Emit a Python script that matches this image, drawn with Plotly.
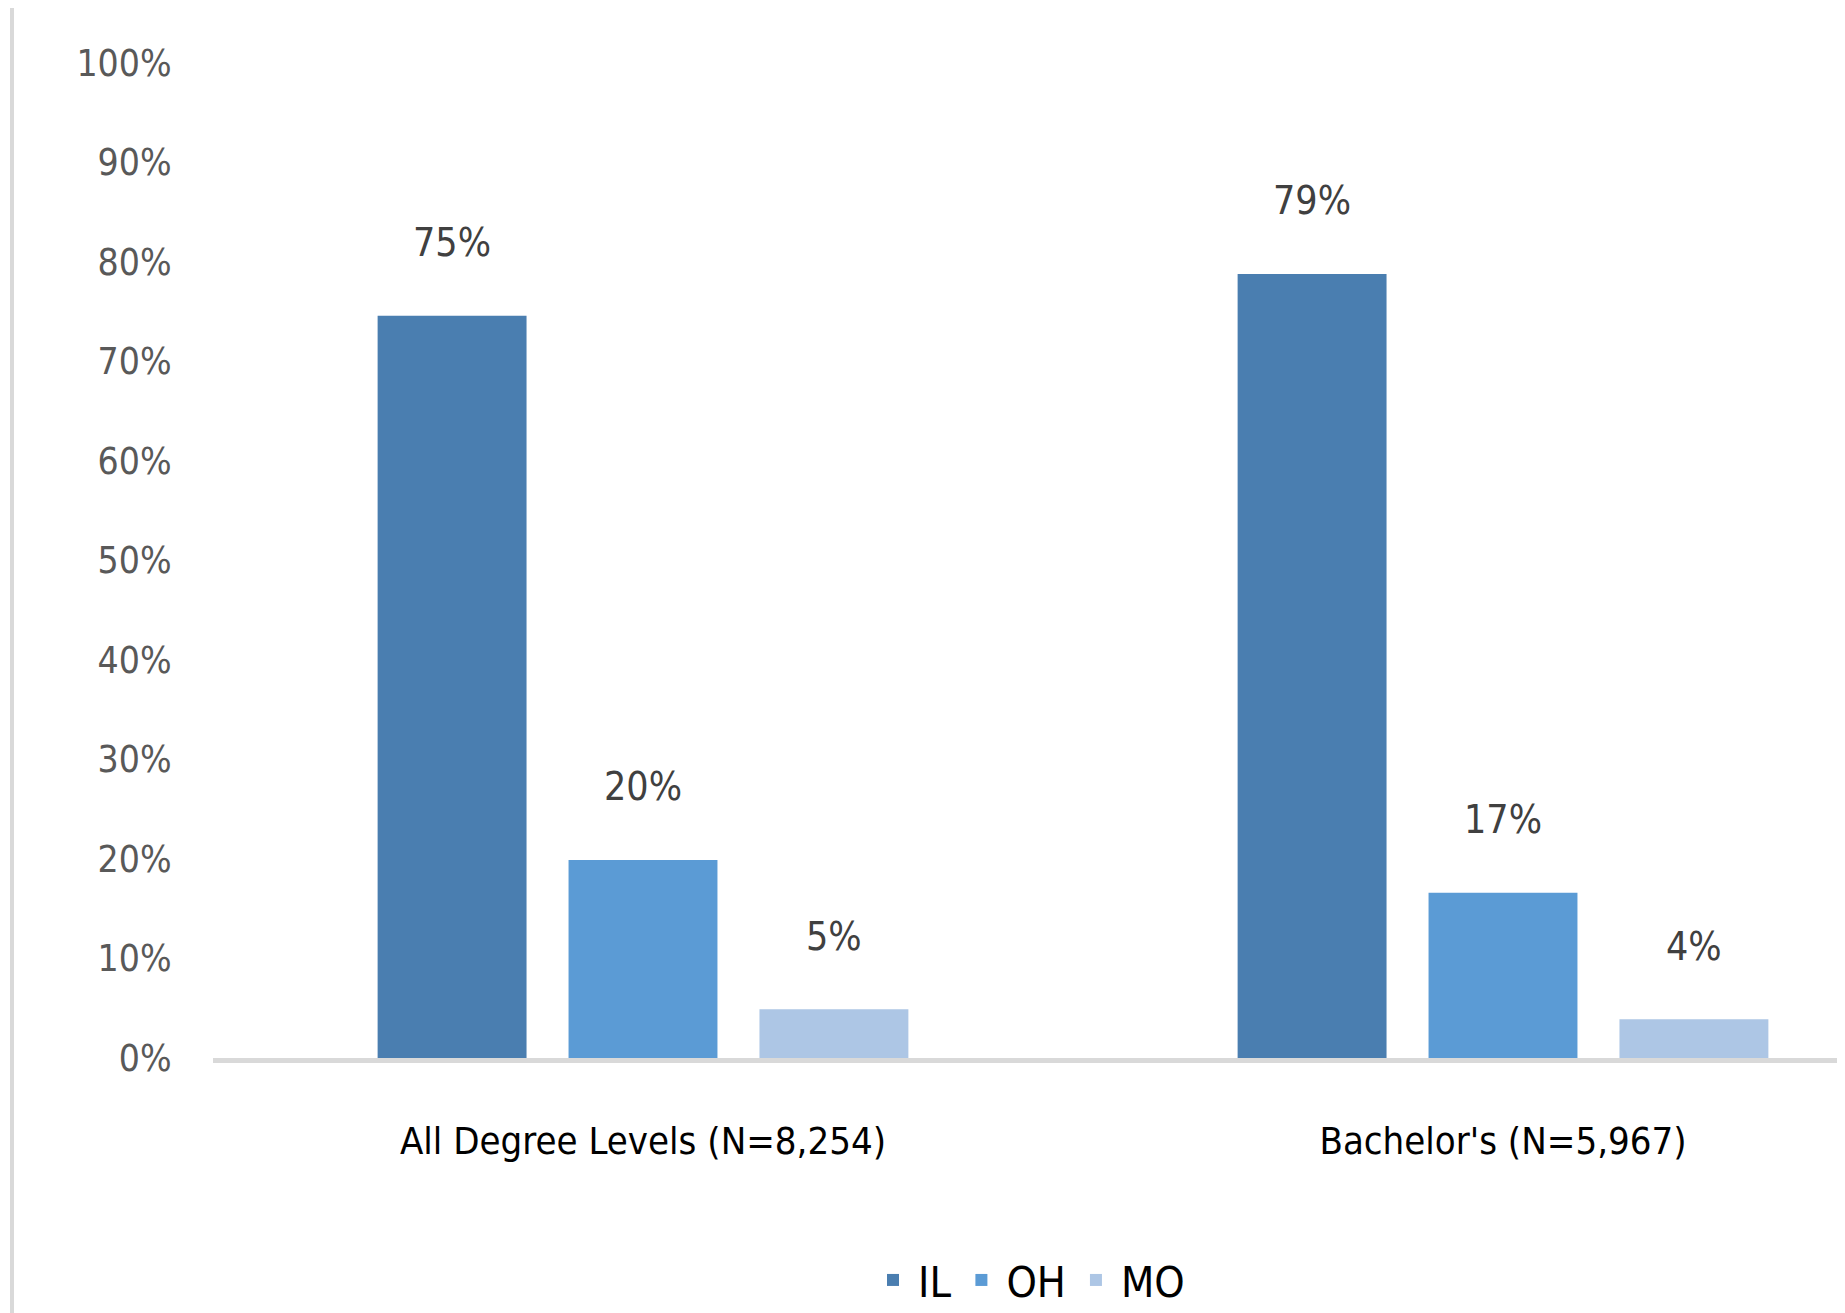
import plotly.graph_objects as go

categories = ["All Degree Levels (N=8,254)", "Bachelor's (N=5,967)"]
series_names = ["IL", "OH", "MO"]
il_values = [74.6, 78.8]
oh_values = [19.9, 16.6]
mo_values = [4.9, 3.9]
y_tick_vals = [0, 10, 20, 30, 40, 50, 60, 70, 80, 90, 100]
y_tick_text = [f"{v}%" for v in y_tick_vals]

colors = ["#4A7EB0", "#5B9BD5", "#ADC6E5"]
series_values = [il_values, oh_values, mo_values]

FONT = "DejaVu Sans Condensed, Liberation Sans, Arial, sans-serif"

# the page body adds an 8px offset; the figure is sized so it ends at the window edge
OFF = 8
W, H = 1845 - OFF, 1313 - OFF
ML, MR, MT = 213 - OFF, 0, 63 - OFF
PLOT_BOTTOM = 1058 - OFF
MB = H - PLOT_BOTTOM
plot_w = W - ML - MR
plot_h = H - MT - MB
cat_px = 860.0
BARGAP = 0.334
BARGROUPGAP = 0.22

fig = go.Figure()
for name, vals, col in zip(series_names, series_values, colors):
    fig.add_trace(go.Bar(
        name=name, x=categories, y=vals, marker=dict(color=col, line=dict(width=0)),
        hoverinfo="skip",
    ))

# data labels above bars
slot_px = cat_px * (1 - BARGAP) / 3
for i, vals in enumerate(series_values):
    for cat, v in zip(categories, vals):
        fig.add_annotation(
            x=cat, y=v, xref="x", yref="y", text=f"{v:.0f}%", showarrow=False,
            xshift=(i - 1) * slot_px, yshift=73, yanchor="middle", xanchor="center",
            font=dict(family=FONT, size=39, color="#404040"),
        )

# chart frame left edge
frame_x = -(ML - (12 - OFF)) / plot_w
fig.add_shape(type="line", xref="paper", yref="paper",
              x0=frame_x, x1=frame_x,
              y0=-MB / plot_h, y1=1 + MT / plot_h,
              line=dict(color="#D9D9D9", width=4), layer="below")

fig.update_layout(
    width=W, height=H,
    margin=dict(l=ML, r=MR, t=MT, b=MB, autoexpand=False),
    paper_bgcolor="white", plot_bgcolor="white",
    barmode="group", bargap=BARGAP, bargroupgap=BARGROUPGAP,
    showlegend=True,
    legend=dict(orientation="h", x=0.5, xanchor="center",
                y=-((1280 - OFF) - PLOT_BOTTOM) / plot_h,
                yanchor="middle", font=dict(family=FONT, size=43, color="#000000"),
                bgcolor="rgba(0,0,0,0)", itemwidth=40),
    font=dict(family=FONT),
)
fig.update_xaxes(
    range=[-0.5, -0.5 + plot_w / cat_px], showgrid=False, zeroline=False,
    showline=True, linecolor="#D9D9D9", linewidth=5,
    ticks="outside", ticklen=45, tickcolor="rgba(0,0,0,0)",
    tickfont=dict(family=FONT, size=38, color="#000000"), fixedrange=True,
)
fig.update_yaxes(
    range=[0, 100], tickvals=y_tick_vals, ticktext=y_tick_text, showgrid=False,
    zeroline=False, showline=False, ticks="outside", ticklen=33,
    tickcolor="rgba(0,0,0,0)", tickfont=dict(family=FONT, size=37, color="#595959"),
    fixedrange=True,
)

fig.write_html("out.html")
